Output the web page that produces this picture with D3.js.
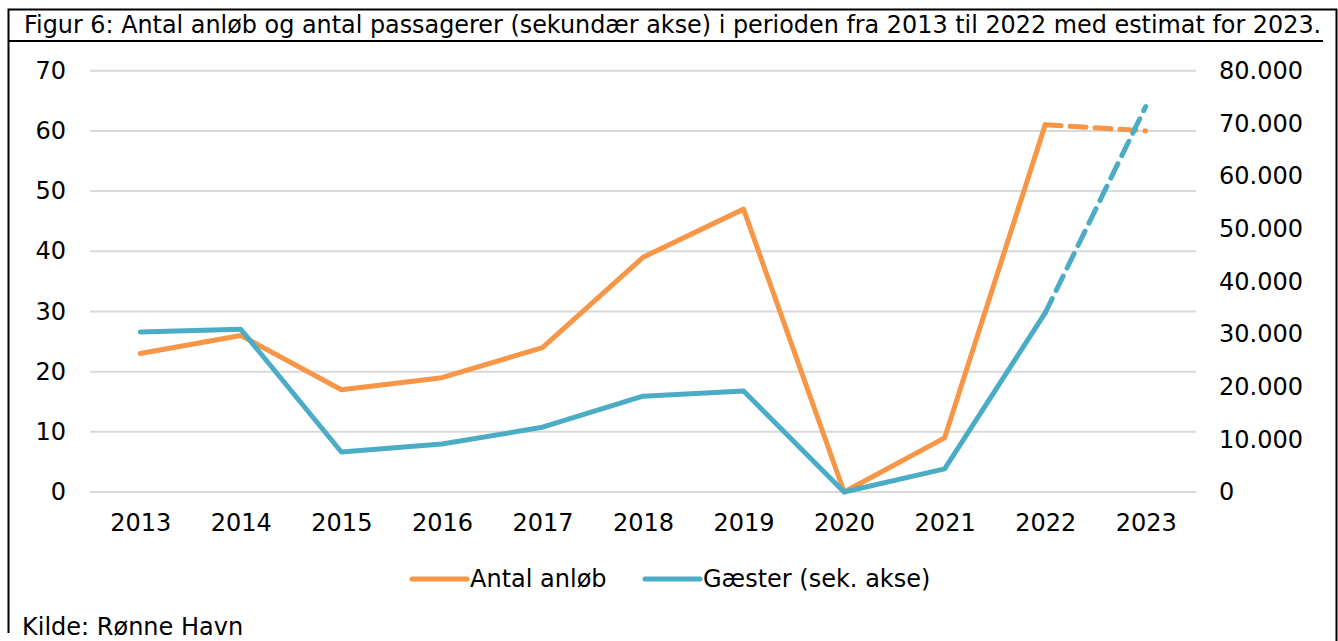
<!DOCTYPE html>
<html>
<head>
<meta charset="utf-8">
<script src="https://cdn.jsdelivr.net/npm/d3@7"></script>
<style>
  body { margin: 0; background: #fff; }
  svg { display: block; font-family: "DejaVu Sans", Verdana, sans-serif; }
</style>
</head>
<body>
<svg id="chart" width="1338" height="641"></svg>
<script>
const years = ['2013', '2014', '2015', '2016', '2017', '2018', '2019', '2020', '2021', '2022', '2023'];
const anlob = [23, 26, 17, 19, 24, 39, 47, 0, 9, 61, 60];
const gaester = [30400, 30900, 7600, 9100, 12300, 18200, 19200, 0, 4400, 34000, 73200];
const leftTicks = [0, 10, 20, 30, 40, 50, 60, 70];
const rightTicks = [0, 10000, 20000, 30000, 40000, 50000, 60000, 70000, 80000];
const estimateFrom = 9; // index of 2022, last actual year

const title = 'Figur 6: Antal anløb og antal passagerer (sekundær akse) i perioden fra 2013 til 2022 med estimat for 2023.';
const source = 'Kilde: Rønne Havn';

const svg = d3.select('#chart');
const margin = { left: 90, right: 1196, top: 70.7, bottom: 492 };

const x = d3.scalePoint().domain(years).range([margin.left, margin.right]).padding(0.5);
const yL = d3.scaleLinear().domain([0, 70]).range([margin.bottom, margin.top]);
const yR = d3.scaleLinear().domain([0, 80000]).range([margin.bottom, margin.top]);

const orange = '#f79646', blue = '#4bacc6';
const fontSize = 24;

// frame
svg.append('path')
  .attr('d', 'M8.5,633 V9.5 H1336.5 V641')
  .attr('fill', 'none').attr('stroke', '#000').attr('stroke-width', 2);
svg.append('line')
  .attr('x1', 8).attr('x2', 1323).attr('y1', 41).attr('y2', 41)
  .attr('stroke', '#000').attr('stroke-width', 2);

// title, fitted to the box width
const t = svg.append('text').attr('x', 24).attr('y', 33)
  .attr('font-size', 21).attr('fill', '#000').text(title);
const w = t.node().getComputedTextLength();
t.attr('font-size', 21 * 1298 / w);

// grid
svg.append('g').selectAll('line').data(leftTicks).join('line')
  .attr('x1', margin.left).attr('x2', margin.right)
  .attr('y1', d => yL(d)).attr('y2', d => yL(d))
  .attr('stroke', '#d9d9d9').attr('stroke-width', 2);

// axes
const fmt = d3.formatLocale({ decimal: ',', thousands: '.', grouping: [3], currency: ['', ' kr.'] }).format(',d');
const axL = svg.append('g').attr('transform', `translate(${margin.left},0)`)
  .call(d3.axisLeft(yL).tickValues(leftTicks).tickSize(0).tickPadding(24));
const axR = svg.append('g').attr('transform', `translate(${margin.right},0)`)
  .call(d3.axisRight(yR).tickValues(rightTicks).tickSize(0).tickPadding(23).tickFormat(fmt));
const axB = svg.append('g').attr('transform', `translate(0,${margin.bottom})`)
  .call(d3.axisBottom(x).tickSize(0).tickPadding(22));
[axL, axR, axB].forEach(a => {
  a.select('.domain').remove();
  a.selectAll('text').attr('font-size', fontSize).attr('font-family', '"DejaVu Sans", Verdana, sans-serif').attr('fill', '#000');
});

// lines
function drawSeries(vals, y, color) {
  const pts = vals.map((v, i) => [x(years[i]), y(v)]);
  const line = d3.line();
  svg.append('path').attr('d', line(pts.slice(0, estimateFrom + 1)))
    .attr('fill', 'none').attr('stroke', color).attr('stroke-width', 5)
    .attr('stroke-linejoin', 'round').attr('stroke-linecap', 'round');
  svg.append('path').attr('d', line(pts.slice(estimateFrom)))
    .attr('fill', 'none').attr('stroke', color).attr('stroke-width', 5)
    .attr('stroke-dasharray', '16,9').attr('stroke-linecap', 'round');
}
drawSeries(anlob, yL, orange);
drawSeries(gaester, yR, blue);

// legend
const legend = [
  { name: 'Antal anløb', color: orange, x: 412 },
  { name: 'Gæster (sek. akse)', color: blue, x: 645 }
];
const lg = svg.append('g').selectAll('g').data(legend).join('g')
  .attr('transform', d => `translate(${d.x},579)`);
lg.append('line').attr('x1', 0).attr('x2', 55)
  .attr('stroke', d => d.color).attr('stroke-width', 5).attr('stroke-linecap', 'round');
lg.append('text').attr('x', 58).attr('dy', '0.35em')
  .attr('font-size', fontSize).attr('fill', '#000').text(d => d.name);

// source
svg.append('text').attr('x', 22).attr('y', 635)
  .attr('font-size', fontSize).attr('fill', '#000').text(source);
</script>
</body>
</html>
